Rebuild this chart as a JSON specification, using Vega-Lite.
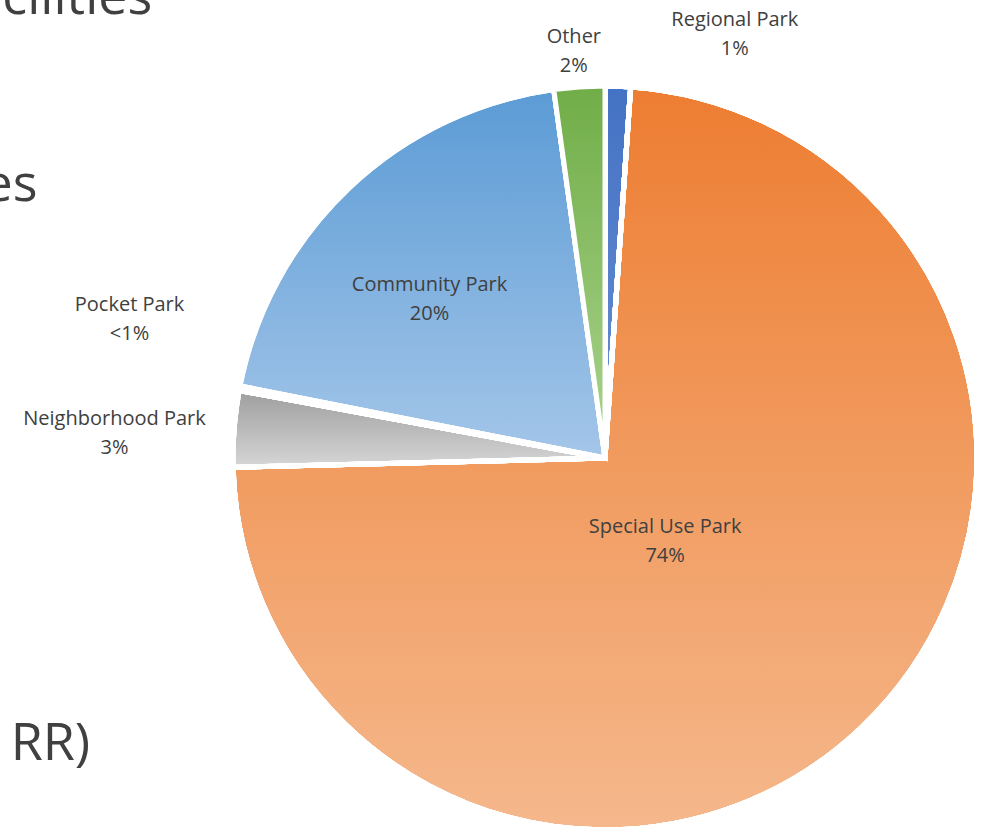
{
  "$schema": "https://vega.github.io/schema/vega-lite/v6.json",
  "autosize": {"type": "none"},
  "padding": {"left": 233, "top": 86, "right": 7, "bottom": 0},
  "width": 744,
  "height": 744,
  "background": "white",
  "config": {"view": {"stroke": null}},
  "title": {"text": ["\u200b\u00a0\u200acilities", "es", "\u200b", "\u200b", "\u200b\u00a0\u00a0RR)"], "orient": "left", "angle": 0, "anchor": "middle", "frame": "group", "align": "left", "baseline": "alphabetic", "lineHeight": 186.5, "fontSize": 52, "font": "Open Sans", "fontWeight": "normal", "color": "#404040", "offset": -129, "dy": -444},
  "data": {"values": [
    {"category": "Regional Park", "value": 1.1, "order": 1, "label": "Regional Park\n1%"},
    {"category": "Special Use Park", "value": 73.5, "order": 2, "label": "Special Use Park\n74%"},
    {"category": "Neighborhood Park", "value": 3.3, "order": 3, "label": "Neighborhood Park\n3%"},
    {"category": "Pocket Park", "value": 0.2, "order": 4, "label": "Pocket Park\n<1%"},
    {"category": "Community Park", "value": 19.7, "order": 5, "label": "Community Park\n20%"},
    {"category": "Other", "value": 2.2, "order": 6, "label": "Other\n2%"}
  ]},
  "encoding": {
    "theta": {"field": "value", "type": "quantitative", "stack": true},
    "order": {"field": "order", "type": "quantitative"}
  },
  "layer": [
    {
      "mark": {"type": "arc", "stroke": "white", "strokeWidth": 5, "fill": {"gradient": "linear", "x1": 0, "y1": 0, "x2": 0, "y2": 1, "stops": [{"offset": 0, "color": "#4472C4"}, {"offset": 1, "color": "#6A8FD3"}]}},
      "encoding": {"fillOpacity": {"condition": {"test": "datum.category === 'Regional Park'", "value": 1}, "value": 0}}
    },
    {
      "mark": {"type": "arc", "stroke": "white", "strokeWidth": 5, "fill": {"gradient": "linear", "x1": 0, "y1": 0, "x2": 0, "y2": 1, "stops": [{"offset": 0, "color": "#ED7D31"}, {"offset": 1, "color": "#F5B88C"}]}},
      "encoding": {"fillOpacity": {"condition": {"test": "datum.category === 'Special Use Park'", "value": 1}, "value": 0}}
    },
    {
      "mark": {"type": "arc", "stroke": "white", "strokeWidth": 5, "fill": {"gradient": "linear", "x1": 0, "y1": 0, "x2": 0, "y2": 1, "stops": [{"offset": 0, "color": "#9E9E9E"}, {"offset": 1, "color": "#D6D6D6"}]}},
      "encoding": {"fillOpacity": {"condition": {"test": "datum.category === 'Neighborhood Park'", "value": 1}, "value": 0}}
    },
    {
      "mark": {"type": "arc", "stroke": "white", "strokeWidth": 5, "fill": {"gradient": "linear", "x1": 0, "y1": 0, "x2": 0, "y2": 1, "stops": [{"offset": 0, "color": "#FFC000"}, {"offset": 1, "color": "#FFD966"}]}},
      "encoding": {"fillOpacity": {"condition": {"test": "datum.category === 'Pocket Park'", "value": 1}, "value": 0}}
    },
    {
      "mark": {"type": "arc", "stroke": "white", "strokeWidth": 5, "fill": {"gradient": "linear", "x1": 0, "y1": 0, "x2": 0, "y2": 1, "stops": [{"offset": 0, "color": "#5B9BD5"}, {"offset": 1, "color": "#A4C6E9"}]}},
      "encoding": {"fillOpacity": {"condition": {"test": "datum.category === 'Community Park'", "value": 1}, "value": 0}}
    },
    {
      "mark": {"type": "arc", "stroke": "white", "strokeWidth": 5, "fill": {"gradient": "linear", "x1": 0, "y1": 0, "x2": 0, "y2": 1, "stops": [{"offset": 0, "color": "#70AD47"}, {"offset": 1, "color": "#ABD48F"}]}},
      "encoding": {"fillOpacity": {"condition": {"test": "datum.category === 'Other'", "value": 1}, "value": 0}}
    },
    {
      "mark": {"type": "text", "radius": 100, "dx": -9, "dy": -3, "font": "Open Sans", "fontSize": 20, "lineHeight": 29, "lineBreak": "\n", "color": "#404040", "align": "center", "baseline": "middle"},
      "encoding": {"text": {"condition": {"test": "datum.category === 'Special Use Park'", "field": "label"}, "value": ""}}
    },
    {
      "mark": {"type": "text", "radius": 238, "dx": -12, "font": "Open Sans", "fontSize": 20, "lineHeight": 29, "lineBreak": "\n", "color": "#404040", "align": "center", "baseline": "middle"},
      "encoding": {"text": {"condition": {"test": "datum.category === 'Community Park'", "field": "label"}, "value": ""}}
    },
    {
      "mark": {"type": "text", "radius": 428, "dx": 115, "dy": -10, "font": "Open Sans", "fontSize": 20, "lineHeight": 29, "lineBreak": "\n", "color": "#404040", "align": "center", "baseline": "middle"},
      "encoding": {"text": {"condition": {"test": "datum.category === 'Regional Park'", "field": "label"}, "value": ""}}
    },
    {
      "mark": {"type": "text", "radius": 422, "dx": -2, "font": "Open Sans", "fontSize": 20, "lineHeight": 29, "lineBreak": "\n", "color": "#404040", "align": "center", "baseline": "middle"},
      "encoding": {"text": {"condition": {"test": "datum.category === 'Other'", "field": "label"}, "value": ""}}
    },
    {
      "mark": {"type": "text", "radius": 482, "dy": -63, "dx": -2, "font": "Open Sans", "fontSize": 20, "lineHeight": 29, "lineBreak": "\n", "color": "#404040", "align": "center", "baseline": "middle"},
      "encoding": {"text": {"condition": {"test": "datum.category === 'Pocket Park'", "field": "label"}, "value": ""}}
    },
    {
      "mark": {"type": "text", "radius": 488, "dy": -1, "dx": -4, "font": "Open Sans", "fontSize": 20, "lineHeight": 29, "lineBreak": "\n", "color": "#404040", "align": "center", "baseline": "middle"},
      "encoding": {"text": {"condition": {"test": "datum.category === 'Neighborhood Park'", "field": "label"}, "value": ""}}
    }
  ]
}
